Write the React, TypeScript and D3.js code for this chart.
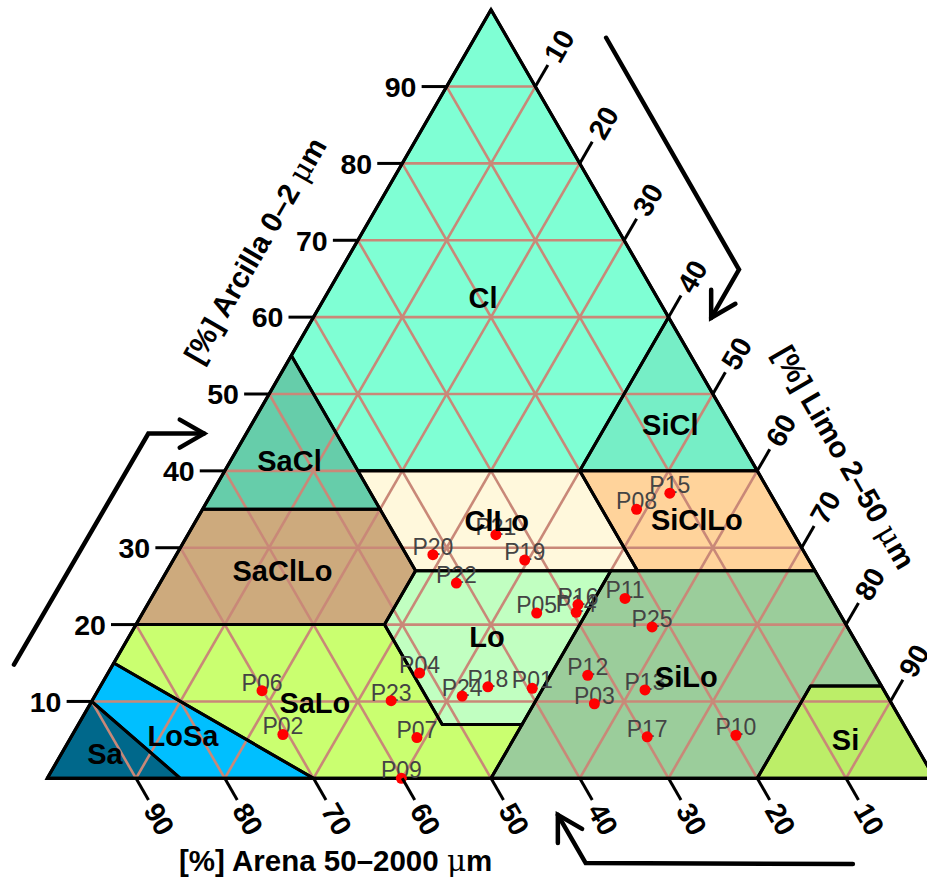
import React from "react";
import * as d3 from "d3";

const W = 927;
const H = 882;

// ---- texture classes (USDA), vertices as [clay, silt] ----
const classNames = ["Cl", "SiCl", "SaCl", "ClLo", "SiClLo", "SaClLo", "Lo", "SiLo", "Si", "SaLo", "LoSa", "Sa"];
const classColors = ["#7FFFD4", "#76EEC6", "#66CDAA", "#FFF8DC", "#FFD39B", "#CDAA7D", "#C1FFC1", "#9BCD9B", "#BCEE68", "#CAFF70", "#00BFFF", "#00688B"];
const classClay = [
  [100, 60, 40, 40, 55],
  [60, 40, 40],
  [55, 40, 35, 35],
  [40, 40, 27, 27],
  [40, 40, 27, 27],
  [35, 35, 27, 20, 20],
  [27, 27, 7, 7, 20],
  [27, 27, 12, 12, 0, 0],
  [12, 12, 0, 0],
  [20, 20, 7, 7, 0, 0, 15],
  [15, 0, 0, 10],
  [10, 0, 0],
];
const classSilt = [
  [0, 40, 40, 15, 0],
  [40, 60, 40],
  [0, 15, 20, 0],
  [15, 40, 53, 28],
  [40, 60, 73, 53],
  [0, 20, 28, 28, 0],
  [28, 50, 50, 41, 28],
  [50, 73, 88, 80, 80, 50],
  [80, 88, 100, 80],
  [0, 28, 41, 50, 50, 30, 0],
  [0, 30, 15, 0],
  [0, 15, 0],
];
const classLabelClay = [62.6, 46.0, 41.4, 33.5, 33.6, 27.0, 18.5, 13.2, 5.1, 9.9, 5.6, 3.2];
const classLabelSilt = [17.8, 47.2, 6.6, 33.9, 56.4, 13.0, 40.3, 65.4, 87.4, 25.2, 12.5, 4.9];

// ---- samples ----
const pointIds = ["P01", "P02", "P03", "P04", "P05", "P06", "P07", "P08", "P09", "P10", "P11", "P12", "P13", "P14", "P15", "P16", "P17", "P18", "P19", "P20", "P21", "P22", "P23", "P24", "P25"];
const pointClay = [11.7, 5.7, 9.7, 13.7, 21.5, 11.4, 5.3, 35.0, 0.0, 5.6, 23.4, 13.4, 11.5, 21.6, 37.1, 22.6, 5.4, 11.9, 28.4, 29.1, 31.7, 25.4, 10.1, 10.7, 19.7];
const pointSilt = [48.8, 23.7, 56.8, 35.1, 44.4, 18.5, 39.0, 48.9, 39.9, 74.8, 53.4, 54.2, 61.6, 48.8, 51.6, 48.5, 64.9, 43.7, 39.6, 28.9, 34.7, 33.4, 33.7, 41.4, 58.3];
const pointSand = pointClay.map((c, i) => 100 - c - pointSilt[i]);

const tickValues = [10, 20, 30, 40, 50, 60, 70, 80, 90];
const gridValues = [10, 20, 30, 40, 50, 60, 70, 80, 90];

const titleClay = "[%] Arcilla 0\u20132 ";
const titleSilt = "[%] Limo 2\u201350 ";
const titleSand = "[%] Arena 50\u20132000 ";

// ---- geometry ----
const xScale = d3.scaleLinear().domain([0, 100]).range([47.25, 934.75]);
const yScale = d3.scaleLinear().domain([0, 100]).range([778.3, 9.7]);
const proj = (clay: number, silt: number): [number, number] => [xScale(silt + clay / 2), yScale(clay)];

const line = d3.line<[number, number]>();
const FONT = "'Liberation Sans', Arial, Helvetica, sans-serif";
const GRID = "#C98878";

const cx = xScale(50);
const cy = (yScale(0) * 2 + yScale(100)) / 3;

function rot(p: [number, number], deg: number): [number, number] {
  const a = (deg * Math.PI) / 180;
  const dx = p[0] - cx;
  const dy = p[1] - cy;
  return [cx + dx * Math.cos(a) - dy * Math.sin(a), cy + dx * Math.sin(a) + dy * Math.cos(a)];
}

// arrow along the clay axis, in (triangle-x %, clay %) space
const arrowX = [-3.75, 11.39, 17.66];
const arrowC = [14.8, 44.85, 44.85];

function arrowPaths(deg: number) {
  const pts = arrowX.map((x, i) => rot([xScale(x), yScale(arrowC[i])], deg));
  const n = pts.length;
  const tip = pts[n - 1];
  const prev = pts[n - 2];
  const ang = Math.atan2(tip[1] - prev[1], tip[0] - prev[0]) + Math.PI;
  const L = 28;
  const a1 = ang + Math.PI / 6;
  const a2 = ang - Math.PI / 6;
  const head: [number, number][] = [
    [tip[0] + L * Math.cos(a1), tip[1] + L * Math.sin(a1)],
    tip,
    [tip[0] + L * Math.cos(a2), tip[1] + L * Math.sin(a2)],
  ];
  return [line(pts) as string, line(head) as string];
}

export default function App() {
  React.useEffect(() => {
    document.body.style.margin = "0";
  }, []);

  const polys = classNames.map((_, i) => classClay[i].map((c, j) => proj(c, classSilt[i][j])));
  const outline = [proj(0, 0), proj(0, 100), proj(100, 0)];

  const gridLines: [number, number][][] = [];
  gridValues.forEach((v) => {
    gridLines.push([proj(v, 0), proj(v, 100 - v)]); // clay
    gridLines.push([proj(0, v), proj(100 - v, v)]); // silt
    gridLines.push([proj(0, 100 - v), proj(100 - v, 0)]); // sand
  });

  const s60 = Math.sqrt(3) / 2;
  const arrows = [0, 120, 240].map((d) => arrowPaths(d));
  const mu = (
    <tspan fontFamily="'DejaVu Serif', serif" fontWeight="normal">
      μ
    </tspan>
  );

  return (
    <svg width={W} height={H} viewBox={`0 0 ${W} ${H}`} style={{ display: "block", background: "#fff" }} fontFamily={FONT}>
      {/* class fills */}
      {polys.map((p, i) => (
        <path key={"f" + i} d={line(p) + "Z"} fill={classColors[i]} stroke="none" />
      ))}
      {/* grid */}
      {gridLines.map((g, i) => (
        <path key={"g" + i} d={line(g) as string} stroke={GRID} strokeWidth={2.6} fill="none" />
      ))}
      {/* class borders */}
      {polys.map((p, i) => (
        <path key={"b" + i} d={line(p) + "Z"} fill="none" stroke="#000" strokeWidth={3} strokeLinejoin="round" />
      ))}
      <path d={line(outline) + "Z"} fill="none" stroke="#000" strokeWidth={3.2} strokeLinejoin="miter" />

      {/* point labels */}
      {pointIds.map((id, i) => {
        const [x, y] = proj(pointClay[i], pointSilt[i]);
        return (
          <text key={"pl" + i} x={x} y={y} textAnchor="middle" fontSize={23} fill="#444444">
            {id}
          </text>
        );
      })}
      {/* points */}
      {pointIds.map((id, i) => {
        const [x, y] = proj(pointClay[i], pointSilt[i]);
        return <circle key={"p" + i} cx={x} cy={y} r={5.5} fill="#FF0000" data-sand={pointSand[i]} />;
      })}

      {/* class labels */}
      {classNames.map((n, i) => {
        const [x, y] = proj(classLabelClay[i], classLabelSilt[i]);
        return (
          <text key={"cl" + i} x={x} y={y} dy="0.36em" textAnchor="middle" fontSize={29} fontWeight="bold" fill="#000">
            {n}
          </text>
        );
      })}

      {/* clay ticks */}
      {tickValues.map((v) => {
        const [x, y] = proj(v, 0);
        return (
          <g key={"ct" + v}>
            <line x1={x} y1={y} x2={x - 25} y2={y} stroke="#000" strokeWidth={3} />
            <text x={x - 46} y={y} dy="0.36em" textAnchor="middle" fontSize={28.5} fontWeight="bold">
              {v}
            </text>
          </g>
        );
      })}
      {/* silt ticks */}
      {tickValues.map((v) => {
        const [x, y] = proj(100 - v, v);
        const lx = x + 47 * 0.5;
        const ly = y - 47 * s60;
        return (
          <g key={"st" + v}>
            <line x1={x} y1={y} x2={x + 25 * 0.5} y2={y - 25 * s60} stroke="#000" strokeWidth={3} />
            <text x={lx} y={ly} dy="0.36em" textAnchor="middle" fontSize={28.5} fontWeight="bold" transform={`rotate(-60 ${lx} ${ly})`}>
              {v}
            </text>
          </g>
        );
      })}
      {/* sand ticks */}
      {tickValues.map((v) => {
        const [x, y] = proj(0, 100 - v);
        const lx = x + 47 * 0.5;
        const ly = y + 47 * s60;
        return (
          <g key={"sa" + v}>
            <line x1={x} y1={y} x2={x + 25 * 0.5} y2={y + 25 * s60} stroke="#000" strokeWidth={3} />
            <text x={lx} y={ly} dy="0.36em" textAnchor="middle" fontSize={28.5} fontWeight="bold" transform={`rotate(60 ${lx} ${ly})`}>
              {v}
            </text>
          </g>
        );
      })}

      {/* axis titles */}
      <text x={xScale(32.5)} y={yScale(0) + 93} textAnchor="middle" fontSize={29.5} fontWeight="bold">
        {titleSand}
        {mu}m
      </text>
      <text x={255} y={250} dy="0.36em" textAnchor="middle" fontSize={29.5} fontWeight="bold" transform="rotate(-60 255 250)">
        {titleClay}
        {mu}m
      </text>
      <text x={845} y={457} dy="0.36em" textAnchor="middle" fontSize={29.5} fontWeight="bold" transform="rotate(60 845 457)">
        {titleSilt}
        {mu}m
      </text>

      {/* arrows */}
      {arrows.map((a, i) => (
        <g key={"ar" + i} fill="none" stroke="#000" strokeWidth={4.5} strokeLinecap="round" strokeLinejoin="miter">
          <path d={a[0]} />
          <path d={a[1]} />
        </g>
      ))}
    </svg>
  );
}
